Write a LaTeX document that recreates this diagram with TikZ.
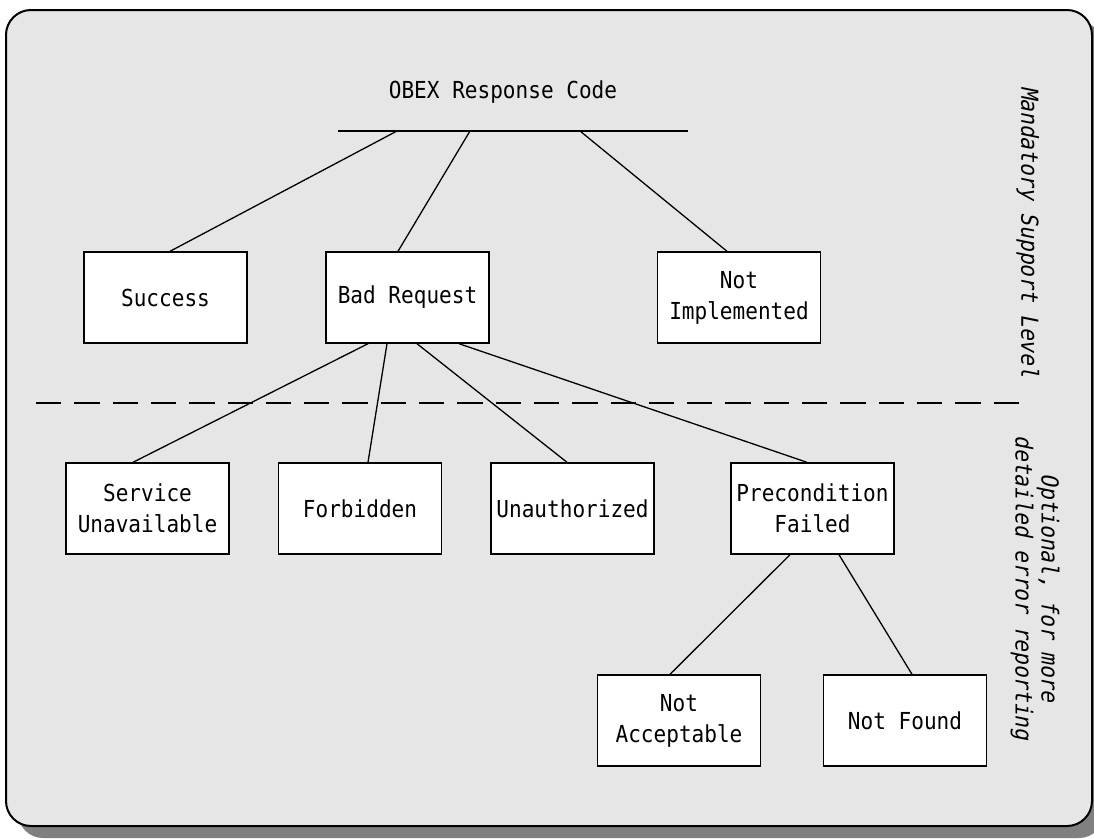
\documentclass[tikz,border=0pt]{standalone}
\usepackage{fontspec}
\usetikzlibrary{calc}
\newfontfamily\gothic{DejaVu Sans Mono}[FakeStretch=0.9]
\newfontfamily\gothicsl{DejaVu Sans Mono}[FakeStretch=0.9,FakeSlant=0.2]
\definecolor{panel}{HTML}{E6E6E6}
\definecolor{dropgray}{HTML}{808080}
\tikzset{
  box/.style={draw=black, line width=1.4pt, fill=white, minimum width=163pt,
    minimum height=91pt, inner sep=0pt, align=center,
    font=\gothic\fontsize{23.4}{31}\selectfont},
  link/.style={draw=black, line width=1.3pt},
  sidelabel/.style={rotate=-90, align=center, inner sep=0pt,
    font=\gothicsl\fontsize{23.4}{26}\selectfont},
}
\begin{document}
\begin{tikzpicture}[x=1pt, y=-1pt]
  \useasboundingbox (0,0) rectangle (1094,838);
  % drop shadow and panel
  \fill[dropgray, rounded corners=25pt] (18,22) rectangle (1104,838);
  \draw[line width=2pt, fill=panel, rounded corners=25pt] (6,10) rectangle (1092,826);

  % title and bar
  \node[font=\gothic\fontsize{23.4}{28}\selectfont, inner sep=0pt] (title) at (503,92) {OBEX Response Code};
  \coordinate (barL) at (338,131);
  \coordinate (barR) at (688,131);
  \coordinate (tapA) at (397,131);
  \coordinate (tapB) at (470,131);
  \coordinate (tapC) at (580,131);
  \draw[link] (barL) -- (barR);

  % divider between mandatory and optional codes
  \coordinate (divL) at (36,403);
  \coordinate (divR) at (1020,403);
  \draw[line width=1.6pt, dash pattern=on 25.3pt off 13pt] (divL) -- (divR);

  % mandatory codes
  \node[box] (succ) at (165.5,297.5) {Success};
  \node[box] (bad)  at (407.5,297.5) {Bad Request};
  \node[box] (nimp) at (739,297.5)   {Not\\Implemented};

  % optional codes
  \node[box] (serv) at (147.5,508.5) {Service\\Unavailable};
  \node[box] (forb) at (360,508.5)   {Forbidden};
  \node[box] (unau) at (572.5,508.5) {Unauthorized};
  \node[box] (prec) at (812.5,508.5) {Precondition\\Failed};
  \node[box] (nacc) at (679,720.5)   {Not\\Acceptable};
  \node[box] (nfnd) at (905,720.5)   {Not Found};

  % connectors
  \draw[link] (tapA) -- ([xshift=4.5pt]succ.north);
  \draw[link] (tapB) -- ([xshift=-9.5pt]bad.north);
  \draw[link] (tapC) -- ([xshift=-12pt]nimp.north);

  \draw[link] ([xshift=-39.5pt]bad.south) -- ([xshift=-14.5pt]serv.north);
  \draw[link] ([xshift=-20.5pt]bad.south) -- ([xshift=8pt]forb.north);
  \draw[link] ([xshift=9.5pt]bad.south)   -- ([xshift=-5.5pt]unau.north);
  \draw[link] ([xshift=51.5pt]bad.south)  -- ([xshift=-5.5pt]prec.north);

  \draw[link] ([xshift=-22.5pt]prec.south) -- ([xshift=-9pt]nacc.north);
  \draw[link] ([xshift=26.5pt]prec.south)  -- ([xshift=7pt]nfnd.north);

  % side labels
  \node[sidelabel] (mand) at (1028,232) {Mandatory Support Level};
  \node[sidelabel] (opt)  at (1035,588) {Optional, for more\\detailed error reporting};
\end{tikzpicture}
\end{document}
